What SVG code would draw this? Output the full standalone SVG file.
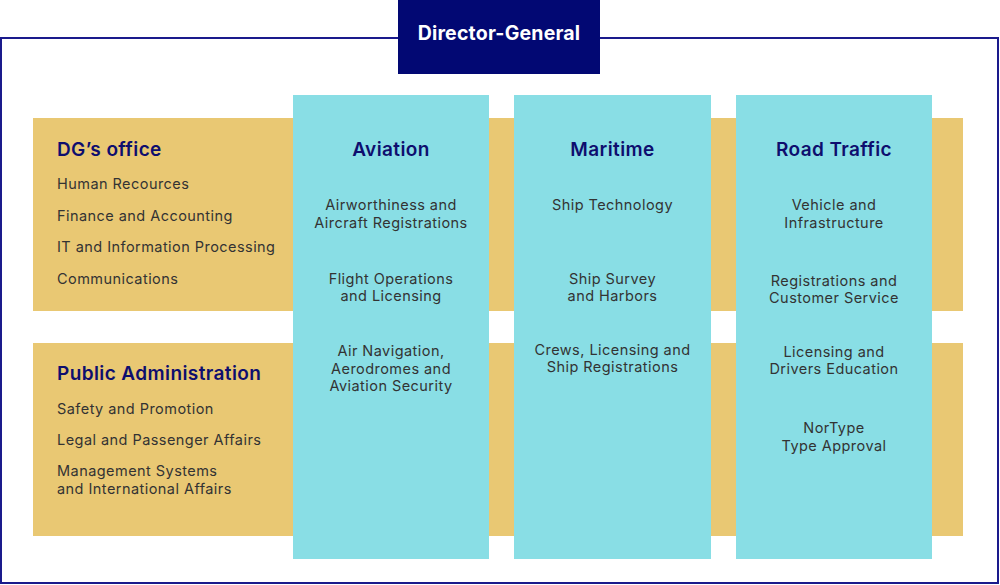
<svg xmlns="http://www.w3.org/2000/svg" width="1000" height="585" viewBox="0 0 1000 585">
<style>
.band{fill:#E9C873}
.col{fill:#89DEE5}
.h{font-family:Inter,"Open Sans","Liberation Sans",sans-serif;font-weight:600;font-size:19px;fill:#0E0E6E;letter-spacing:0.4px}
.t{font-family:Inter,"Open Sans","Liberation Sans",sans-serif;font-size:14.5px;fill:#333333;letter-spacing:0.45px}
.c{text-anchor:middle}
</style>
<rect x="1" y="38" width="997" height="545" fill="#fff" stroke="#1A1A8C" stroke-width="2"/>
<g id="dg">
<rect x="398" y="0" width="202" height="74" fill="#020873"/>
<text x="499" y="40" text-anchor="middle" font-family="Inter,'Open Sans','Liberation Sans',sans-serif" font-weight="700" font-size="19.5" letter-spacing="0.2" fill="#fff">Director-General</text>
</g>
<g id="dgoffice">
<rect class="band" x="33" y="118" width="930" height="193"/>
<text class="h" x="57" y="156">DG’s office</text>
<text class="t" x="57" y="189">Human Recources</text>
<text class="t" x="57" y="221">Finance and Accounting</text>
<text class="t" x="57" y="252">IT and Information Processing</text>
<text class="t" x="57" y="284">Communications</text>
</g>
<g id="publicadmin">
<rect class="band" x="33" y="343" width="930" height="193"/>
<text class="h" x="57" y="380">Public Administration</text>
<text class="t" x="57" y="414">Safety and Promotion</text>
<text class="t" x="57" y="445">Legal and Passenger Affairs</text>
<text class="t" x="57" y="476">Management Systems</text>
<text class="t" x="57" y="494">and International Affairs</text>
</g>
<g id="aviation">
<rect class="col" x="293" y="95" width="196" height="464"/>
<text class="h c" x="391" y="156">Aviation</text>
<text class="t c" x="391" y="210">Airworthiness and</text>
<text class="t c" x="391" y="228">Aircraft Registrations</text>
<text class="t c" x="391" y="284">Flight Operations</text>
<text class="t c" x="391" y="301">and Licensing</text>
<text class="t c" x="391" y="356">Air Navigation,</text>
<text class="t c" x="391" y="374">Aerodromes and</text>
<text class="t c" x="391" y="391">Aviation Security</text>
</g>
<g id="maritime">
<rect class="col" x="514" y="95" width="197" height="464"/>
<text class="h c" x="612.5" y="156">Maritime</text>
<text class="t c" x="612.5" y="210">Ship Technology</text>
<text class="t c" x="612.5" y="284">Ship Survey</text>
<text class="t c" x="612.5" y="301">and Harbors</text>
<text class="t c" x="612.5" y="355">Crews, Licensing and</text>
<text class="t c" x="612.5" y="372">Ship Registrations</text>
</g>
<g id="roadtraffic">
<rect class="col" x="736" y="95" width="196" height="464"/>
<text class="h c" x="834" y="156">Road Traffic</text>
<text class="t c" x="834" y="210">Vehicle and</text>
<text class="t c" x="834" y="228">Infrastructure</text>
<text class="t c" x="834" y="286">Registrations and</text>
<text class="t c" x="834" y="303">Customer Service</text>
<text class="t c" x="834" y="357">Licensing and</text>
<text class="t c" x="834" y="374">Drivers Education</text>
<text class="t c" x="834" y="433">NorType</text>
<text class="t c" x="834" y="451">Type Approval</text>
</g>
<g id="connectors"></g>
</svg>
